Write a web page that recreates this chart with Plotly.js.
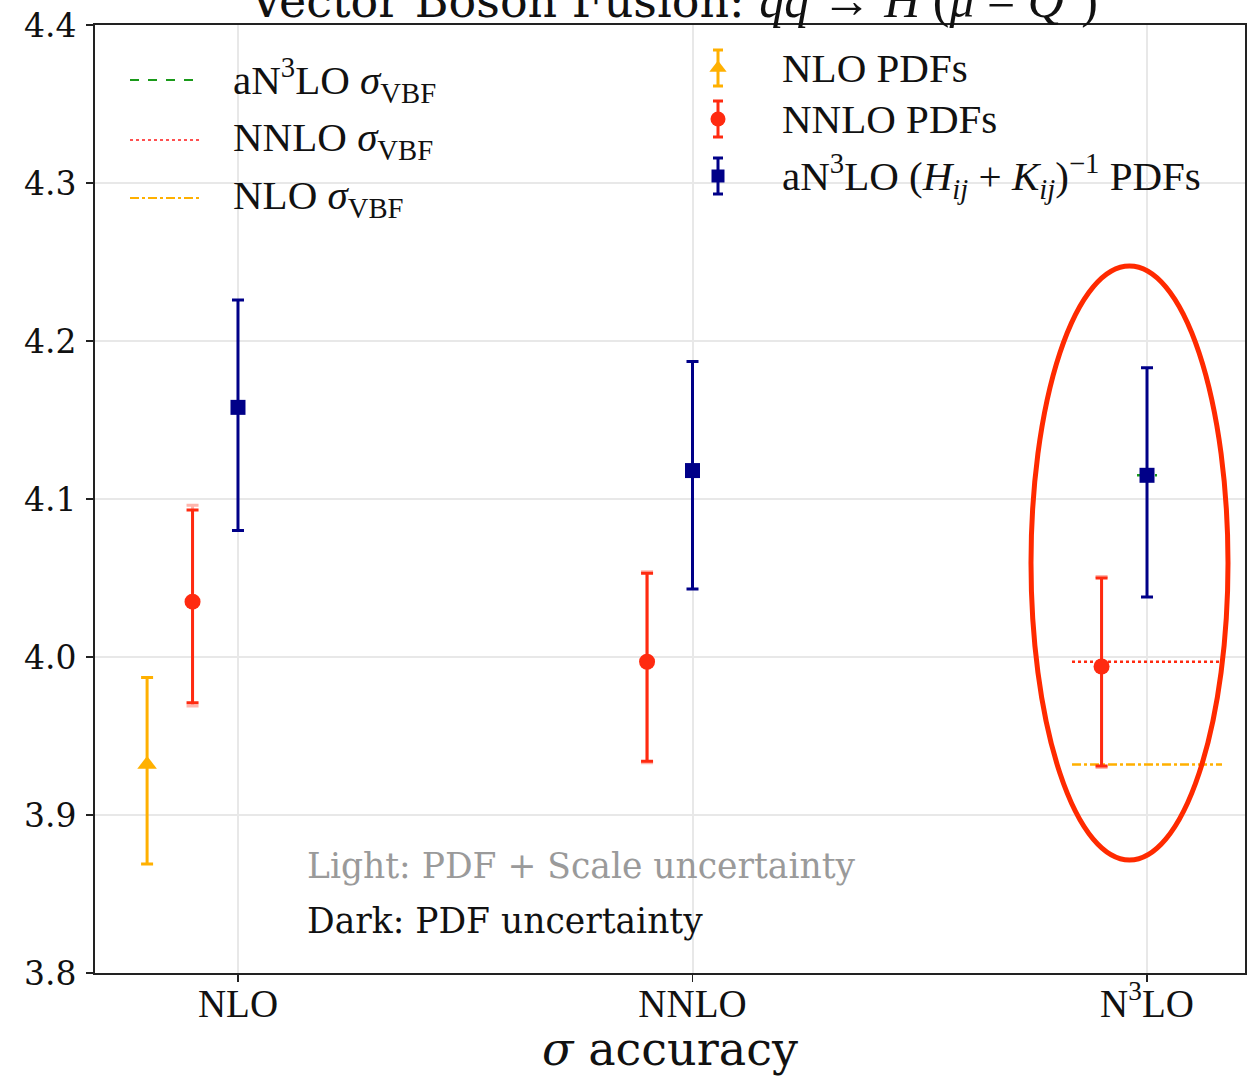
<!DOCTYPE html>
<html><head><meta charset="utf-8">
<script src="https://cdn.plot.ly/plotly-3.0.1.min.js"></script>
<style>html,body{margin:0;padding:0;background:#fff;}</style>
</head><body><div id="chart" style="width:1249px;height:1076px;"></div>
<script>
// ---------------- data ----------------
const categories = ['NLO', 'NNLO', 'N3LO'];
const categoryLabels = ['NLO', 'NNLO', 'N<sup>3</sup>LO'];

// NLO PDFs
const nloPdfCats = ['NLO'];
const nloPdfVal = [3.932];
const nloPdfUp = [3.987];
const nloPdfLo = [3.869];

// NNLO PDFs (dark: PDF uncertainty, light: PDF + scale)
const nnloPdfCats = ['NLO', 'NNLO', 'N3LO'];
const nnloPdfVal = [4.035, 3.997, 3.994];
const nnloPdfUp = [4.093, 4.053, 4.050];
const nnloPdfLo = [3.971, 3.934, 3.931];
const nnloPdfUpLight = [4.096, 4.054, 4.051];
const nnloPdfLoLight = [3.969, 3.933, 3.930];

// aN3LO (H_ij + K_ij)^-1 PDFs
const an3loPdfCats = ['NLO', 'NNLO', 'N3LO'];
const an3loPdfVal = [4.158, 4.118, 4.115];
const an3loPdfUp = [4.226, 4.187, 4.183];
const an3loPdfLo = [4.080, 4.043, 4.038];

// reference cross sections
const sigmaNLO = 3.932;
const sigmaNNLO = 3.997;
const sigmaAN3LO = 4.115;

// ---------------- geometry helpers ----------------
const X0 = -0.3146, X1 = 2.2156, Y0 = 3.8, Y1 = 4.4;
const PL = 95, PW = 1150, PT = 25, PH = 948;
const px2x = px => X0 + (px - PL) / PW * (X1 - X0);
const py2y = py => Y1 - (py - PT) / PH * (Y1 - Y0);
const pos = (cats, off) => cats.map(c => categories.indexOf(c) + off);
const up = (v, u) => u.map((x, i) => +(x - v[i]).toFixed(4));
const dn = (v, l) => l.map((x, i) => +(v[i] - x).toFixed(4));

const YEL = '#ffb000', RED = '#ff2a10', BLUE = '#000088';
const SERIF = 'DejaVu Serif', MATH = 'Liberation Serif';

const traces = [];

// reference lines in the N3LO column
const n3 = categories.indexOf('N3LO');
traces.push({x: [n3 - 0.165, n3 + 0.165], y: [sigmaNNLO, sigmaNNLO], mode: 'lines',
  line: {color: RED, width: 2.5, dash: 'dot'}, showlegend: false, hoverinfo: 'skip'});
traces.push({x: [n3 - 0.165, n3 + 0.165], y: [sigmaNLO, sigmaNLO], mode: 'lines',
  line: {color: YEL, width: 2.5, dash: 'dashdot'}, showlegend: false, hoverinfo: 'skip'});
traces.push({x: [n3 - 0.022, n3 + 0.022], y: [sigmaAN3LO, sigmaAN3LO], mode: 'lines',
  line: {color: '#1a9a1a', width: 2.5, dash: 'dash'}, showlegend: false, hoverinfo: 'skip'});

// light error bars (PDF + scale)
traces.push({x: pos(nnloPdfCats, -0.1), y: nnloPdfVal, mode: 'markers', type: 'scatter',
  marker: {size: 1, color: 'rgba(0,0,0,0)'},
  error_y: {type: 'data', symmetric: false, array: up(nnloPdfVal, nnloPdfUpLight),
    arrayminus: dn(nnloPdfVal, nnloPdfLoLight), color: 'rgba(255,90,70,0.45)', thickness: 3, width: 6},
  showlegend: false, hoverinfo: 'skip'});

// dark error bars
traces.push({name: 'NLO PDFs', x: pos(nloPdfCats, -0.2), y: nloPdfVal, mode: 'markers', type: 'scatter',
  marker: {symbol: 'triangle-up', size: 17, color: YEL},
  error_y: {type: 'data', symmetric: false, array: up(nloPdfVal, nloPdfUp),
    arrayminus: dn(nloPdfVal, nloPdfLo), color: YEL, thickness: 3, width: 6}, showlegend: false});
traces.push({name: 'NNLO PDFs', x: pos(nnloPdfCats, -0.1), y: nnloPdfVal, mode: 'markers', type: 'scatter',
  marker: {symbol: 'circle', size: 16, color: RED},
  error_y: {type: 'data', symmetric: false, array: up(nnloPdfVal, nnloPdfUp),
    arrayminus: dn(nnloPdfVal, nnloPdfLo), color: RED, thickness: 3, width: 6}, showlegend: false});
traces.push({name: 'aN3LO PDFs', x: pos(an3loPdfCats, 0), y: an3loPdfVal, mode: 'markers', type: 'scatter',
  marker: {symbol: 'square', size: 15, color: BLUE},
  error_y: {type: 'data', symmetric: false, array: up(an3loPdfVal, an3loPdfUp),
    arrayminus: dn(an3loPdfVal, an3loPdfLo), color: BLUE, thickness: 3, width: 6}, showlegend: false});

// ---------------- hand-made legends ----------------
const legLines = [
  {py: 80, color: '#1a9a1a', dash: 'dash', text: 'aN<sup>3</sup>LO <i>σ</i><sub>VBF</sub>'},
  {py: 140, color: '#ff5050', dash: 'dot', text: 'NNLO <i>σ</i><sub>VBF</sub>'},
  {py: 198, color: YEL, dash: 'dashdot', text: 'NLO <i>σ</i><sub>VBF</sub>'}
];
const legMarks = [
  {py: 68, color: YEL, symbol: 'triangle-up', size: 15, text: 'NLO PDFs'},
  {py: 119, color: RED, symbol: 'circle', size: 15, text: 'NNLO PDFs'},
  {py: 176, color: BLUE, symbol: 'square', size: 13, text: 'aN<sup>3</sup>LO (<i>H<sub>ij</sub></i> + <i>K<sub>ij</sub></i>)<sup>−1</sup> PDFs'}
];
const annotations = [];
legLines.forEach(l => {
  traces.push({x: [px2x(130), px2x(200)], y: [py2y(l.py), py2y(l.py)], mode: 'lines',
    line: {color: l.color, width: 2, dash: l.dash}, showlegend: false, hoverinfo: 'skip'});
  annotations.push({x: px2x(231), y: py2y(l.py), xref: 'x', yref: 'y', xanchor: 'left', yanchor: 'middle',
    text: l.text, showarrow: false, font: {family: MATH, size: 41, color: '#111'}});
});
legMarks.forEach(m => {
  const v = py2y(m.py), e = 18 / PH * (Y1 - Y0);
  traces.push({x: [px2x(718)], y: [v], mode: 'markers', marker: {symbol: m.symbol, size: m.size, color: m.color},
    error_y: {type: 'data', array: [e], color: m.color, thickness: 3, width: 5},
    showlegend: false, hoverinfo: 'skip'});
  annotations.push({x: px2x(780), y: v, xref: 'x', yref: 'y', xanchor: 'left', yanchor: 'middle',
    text: m.text, showarrow: false, font: {family: MATH, size: 41, color: '#111'}});
});

annotations.push({x: px2x(305), y: py2y(866), xref: 'x', yref: 'y', xanchor: 'left', yanchor: 'middle',
  text: 'Light: PDF + Scale uncertainty', showarrow: false, font: {family: SERIF, size: 34.5, color: '#9a9a9a'}});
annotations.push({x: px2x(305), y: py2y(921), xref: 'x', yref: 'y', xanchor: 'left', yanchor: 'middle',
  text: 'Dark: PDF uncertainty', showarrow: false, font: {family: SERIF, size: 34.5, color: '#111'}});

// cut-off title
annotations.push({x: px2x(673), y: 1, xref: 'x', yref: 'paper', xanchor: 'center', yanchor: 'bottom', yshift: -5,
  text: 'Vector Boson Fusion: <span style="font-family:Liberation Serif;font-size:50px"><i>qq</i> → <i>H</i> (<i>μ</i> = <i>Q</i><sup>2</sup>)</span>',
  showarrow: false, font: {family: SERIF, size: 46, color: '#111'}});

// white patches present in the reference (occluding some grid lines)
const whites = [[250, 298, 215, 530], [718, 766, 215, 530], [691, 1231, 215, 267], [1187, 1233, 480, 520], [1233, 1244, 330, 352]];
const shapes = whites.map(w => ({type: 'rect', xref: 'x', yref: 'y', layer: 'below',
  x0: px2x(w[0]), x1: px2x(w[1]), y0: py2y(w[2]), y1: py2y(w[3]), fillcolor: '#ffffff', line: {width: 0}}));
// highlight ellipse
shapes.push({type: 'circle', xref: 'x', yref: 'y', layer: 'above',
  x0: px2x(1031), x1: px2x(1228), y0: py2y(266), y1: py2y(860), line: {color: '#ff2a00', width: 5}});

const layout = {
  width: 1249, height: 1076,
  margin: {l: PL, r: 1249 - PL - PW, t: PT, b: 1076 - PT - PH, pad: 0},
  paper_bgcolor: '#fff', plot_bgcolor: '#fff', showlegend: false,
  xaxis: {range: [X0, X1], tickmode: 'array', tickvals: categories.map((c, i) => i), ticktext: categoryLabels,
    showgrid: true, gridcolor: '#e8e8e8', gridwidth: 2, zeroline: false,
    showline: true, linecolor: '#222', linewidth: 2, mirror: true,
    ticks: 'outside', ticklen: 7, tickwidth: 1.5, tickcolor: '#222', ticklabelstandoff: -12,
    tickfont: {family: MATH, size: 39, color: '#111'},
    title: {text: '<i>σ</i> accuracy', font: {family: SERIF, size: 46, color: '#111'}, standoff: 22}},
  yaxis: {range: [Y0, Y1], tickmode: 'linear', tick0: 3.8, dtick: 0.1, tickformat: '.1f',
    showgrid: true, gridcolor: '#e8e8e8', gridwidth: 2, zeroline: false,
    showline: true, linecolor: '#222', linewidth: 2, mirror: true,
    ticks: 'outside', ticklen: 7, tickwidth: 1.5, tickcolor: '#222', ticklabelstandoff: 3,
    tickfont: {family: SERIF, size: 33, color: '#111'}},
  annotations: annotations, shapes: shapes
};

Plotly.newPlot('chart', traces, layout, {displayModeBar: false, staticPlot: true});
</script></body></html>
